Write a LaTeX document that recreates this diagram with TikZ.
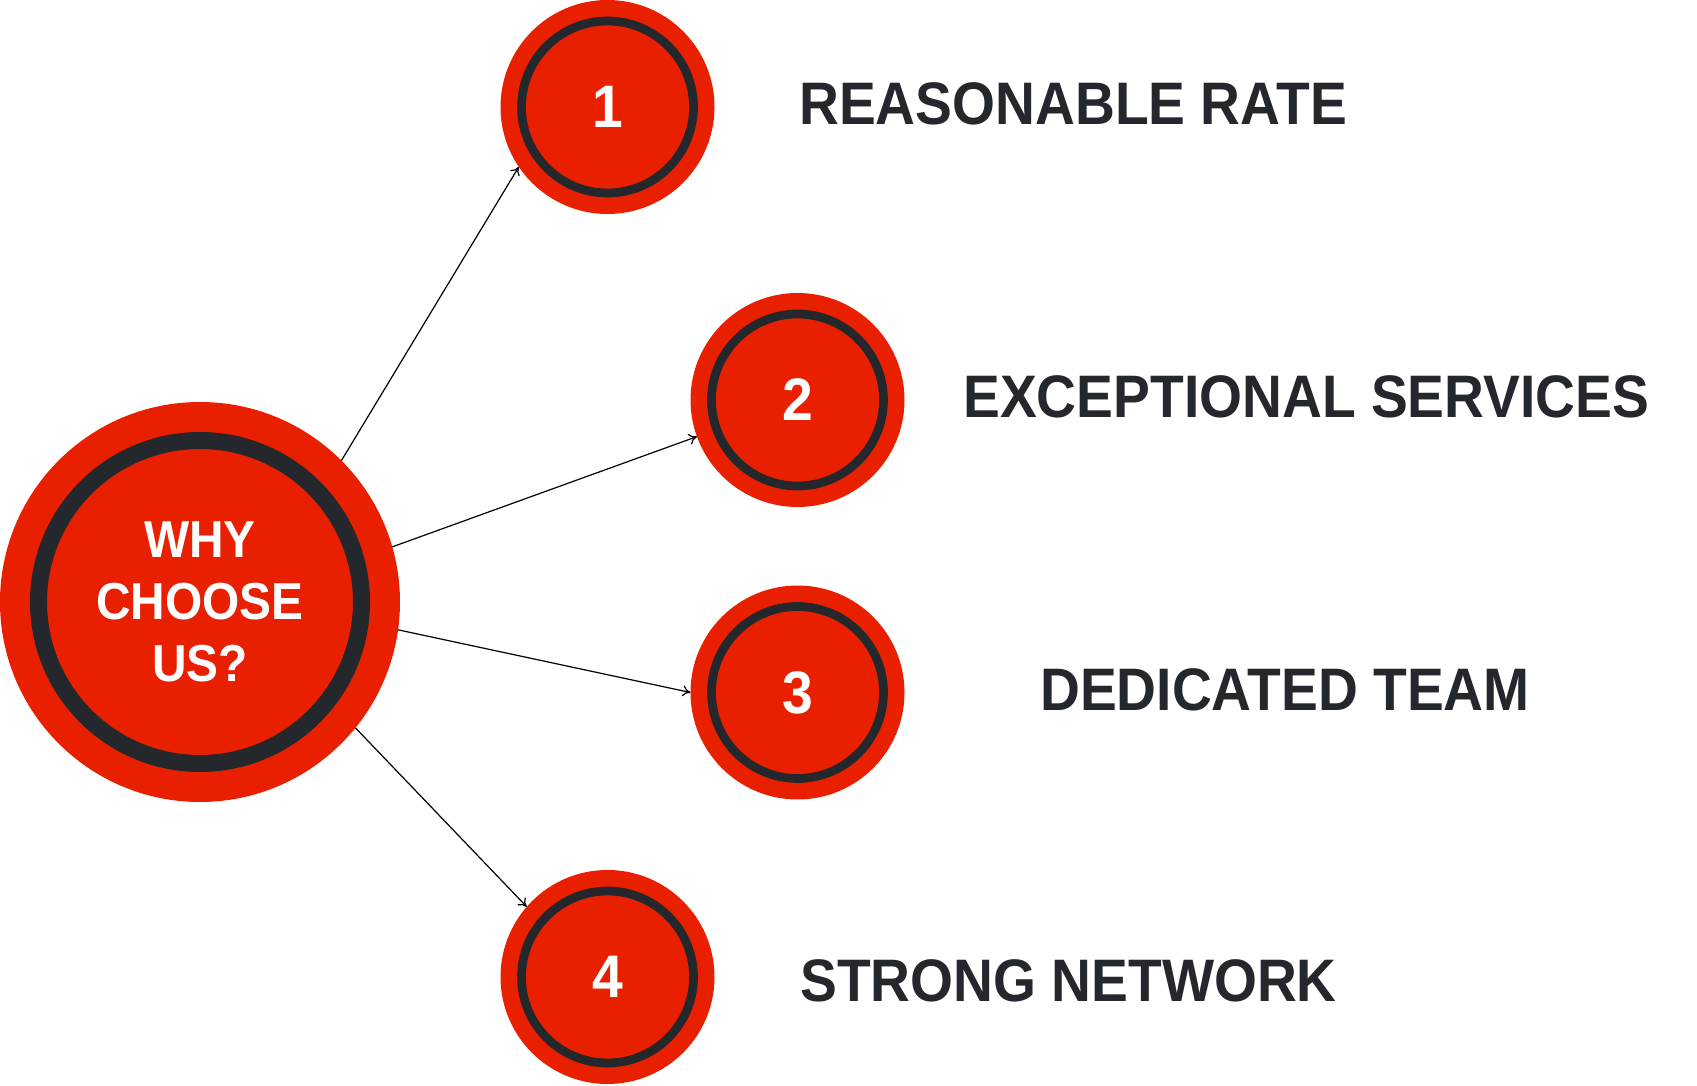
\documentclass[tikz,border=0pt]{standalone}
\usepackage{fontspec}
\newfontfamily\headfont{Liberation Sans}[FakeStretch=0.92]
\usetikzlibrary{arrows.meta}
\definecolor{chred}{RGB}{233,32,0}
\definecolor{chdark}{RGB}{36,39,43}
\tikzset{
  bigdot/.style={circle, fill=chred, minimum size=400pt, inner sep=0pt, outer sep=0pt, text=white, align=center, font=\headfont\bfseries\fontsize{52}{62}\selectfont},
  numdot/.style={circle, fill=chred, minimum size=214pt, inner sep=0pt, outer sep=0pt, text=white, font=\headfont\bfseries\fontsize{60}{72}\selectfont},
  reason/.style={anchor=base west, inner sep=0pt, text=chdark, font=\headfont\bfseries\fontsize{60}{72}\selectfont},
  ring/.style={draw=chdark},
  link/.style={->, line width=1.2pt, black},
  >={To[length=8pt,width=11pt]}
}
\begin{document}
\begin{tikzpicture}[x=1pt, y=1pt]
  \useasboundingbox (0,0) rectangle (1697,1085);
  \node[bigdot] (why) at (200,483) {WHY\\CHOOSE\\US?};
  \draw[ring, line width=17pt] (why.center) circle (161.5);
  \node[numdot] (n1) at (607.5,978) {1};
  \draw[ring, line width=8.7pt] (n1.center) circle (86);
  \node[numdot] (n2) at (797.5,685) {2};
  \draw[ring, line width=8.7pt] (n2.center) circle (86);
  \node[numdot] (n3) at (797.5,392.5) {3};
  \draw[ring, line width=8.7pt] (n3.center) circle (86);
  \node[numdot] (n4) at (607.5,108) {4};
  \draw[ring, line width=8.7pt] (n4.center) circle (86);
  \node[reason] (t1) at (799,960) {REASONABLE RATE};
  \node[reason] (t2) at (963,667.5) {EXCEPTIONAL SERVICES};
  \node[reason] (t3) at (1040,374) {DEDICATED TEAM};
  \node[reason] (t4) at (800,84) {STRONG NETWORK};
  \draw[link] (why.45) -- (n1.214);
  \draw[link] (why.16) -- (n2.200);
  \draw[link] (why.-8) -- (n3.180);
  \draw[link] (why.-39) -- (n4.139);
\end{tikzpicture}
\end{document}
